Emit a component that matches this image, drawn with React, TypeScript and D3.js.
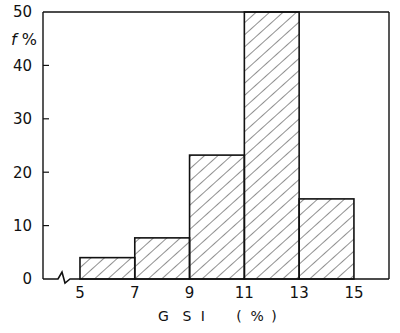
import React from "react";
import * as d3 from "d3";

const binStarts = [5, 7, 9, 11, 13];
const binWidth = 2;
const frequencies = [4, 7.7, 23.2, 50, 15];
const xTickValues = [5, 7, 9, 11, 13, 15];
const yTickValues = [0, 10, 20, 30, 40, 50];
const axisTitleLetters = ["G", "S", "I", "(", "%", ")"];
const axisTitlePositions = [8.05, 8.9, 9.48, 10.8, 11.47, 12.08];

export default function App() {
  const W = 400, H = 333;
  const x = d3.scaleLinear().domain([3.65, 16.28]).range([43, 389]);
  const y = d3.scaleLinear().domain([0, 50]).range([279, 12]);
  const font = "'DejaVu Sans', sans-serif";
  const x0 = x.range()[0];
  const x1 = x.range()[1];
  const yb = y(0);
  const yt = y(50);
  const baseline = d3.line()([
    [x0, yb], [58, yb], [62, yb - 7], [65, yb + 4], [70, yb], [x1, yb]
  ] as [number, number][]);
  return (
    <svg width={W} height={H} style={{ position: "absolute", left: 0, top: 0, background: "#fff" }}>
      <defs>
        <pattern id="hatch" patternUnits="userSpaceOnUse" width="9" height="9" patternTransform="rotate(48)">
          <line x1="0" y1="0" x2="0" y2="9" stroke="#222" strokeWidth="1" />
        </pattern>
      </defs>
      <rect x={0} y={0} width={W} height={H} fill="#fff" />
      {binStarts.map((s, i) => (
        <rect key={i} x={x(s)} y={y(frequencies[i])} width={x(s + binWidth) - x(s)} height={yb - y(frequencies[i])}
          fill="url(#hatch)" stroke="#111" strokeWidth={1.6} />
      ))}
      <path d={baseline || ""} fill="none" stroke="#111" strokeWidth={1.6} />
      <line x1={x0} y1={yb} x2={x0} y2={yt} stroke="#111" strokeWidth={1.4} />
      <line x1={x0} y1={yt} x2={x1} y2={yt} stroke="#111" strokeWidth={1.4} />
      <line x1={x1} y1={yt} x2={x1} y2={yb} stroke="#111" strokeWidth={1.4} />
      {yTickValues.filter(v => v > 0 && v < 50).map(v => (
        <line key={v} x1={x0} x2={x0 + 6} y1={y(v)} y2={y(v)} stroke="#111" strokeWidth={1.2} />
      ))}
      {yTickValues.map(v => (
        <text key={v} x={x0 - 11} y={y(v)} dy="0.36em" textAnchor="end" fontFamily={font} fontSize={15} fill="#111">{v}</text>
      ))}
      {xTickValues.map(v => (
        <text key={v} x={x(v)} y={yb + 19} textAnchor="middle" fontFamily={font} fontSize={15} fill="#111">{v}</text>
      ))}
      <text x={11} y={45} fontFamily={font} fontSize={16} fill="#111"><tspan fontStyle="italic">f</tspan> %</text>
      {axisTitleLetters.map((c, i) => (
        <text key={i} x={x(axisTitlePositions[i])} y={321} textAnchor="middle" fontFamily={font} fontSize={14} fill="#111">{c}</text>
      ))}
    </svg>
  );
}
